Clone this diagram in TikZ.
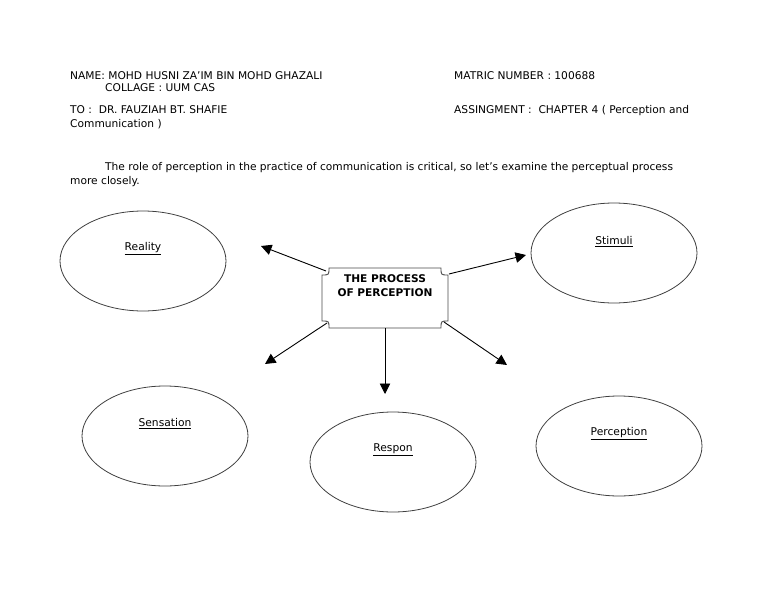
\documentclass[tikz,border=0pt]{standalone}
\usepackage{fontspec}
\setmainfont{DejaVu Sans}
\usetikzlibrary{arrows.meta,shapes.geometric}
\begin{document}
\begin{tikzpicture}[x=1pt,y=-1pt,
  txt/.style={anchor=base west,inner sep=0pt,font=\fontsize{10.65}{12}\selectfont},
  oval/.style={draw=black!75,line width=0.8pt,ellipse,minimum width=166pt,minimum height=100pt},
  lbl/.style={inner sep=0pt,font=\fontsize{10.7}{12}\selectfont},
  arr/.style={draw=black,line width=0.9pt,-{Triangle[length=10.5pt,width=10.5pt]}}]
\useasboundingbox (0,0) rectangle (768,594);
\fill[white] (0,0) rectangle (768,594);
% header
\node[txt] (name) at (70,79) {NAME: MOHD HUSNI ZA'IM BIN MOHD GHAZALI};
\node[txt] (coll) at (105,92) {COLLAGE : UUM CAS};
\node[txt] (matric) at (454,79) {MATRIC NUMBER : 100688};
\node[txt] (to) at (70,113) {TO :\ \ DR. FAUZIAH BT. SHAFIE};
\node[txt] (assign) at (454,113) {ASSINGMENT :\ \ CHAPTER 4 ( Perception and};
\node[txt] (comm) at (70,127) {Communication )};
\node[txt] (para1) at (105,170) {The role of perception in the practice of communication is critical, so let's examine the perceptual process};
\node[txt] (para2) at (70,184) {more closely.};
% ellipses
\node[oval] (reality) at (143,261) {};
\node[oval] (stimuli) at (614,253) {};
\node[oval] (sensation) at (165,436) {};
\node[oval] (respon) at (393,462) {};
\node[oval] (perception) at (619,446) {};
\node[lbl] (lreality) at (143,249) {\underline{Reality}};
\node[lbl] (lstimuli) at (614,242) {\underline{Stimuli}};
\node[lbl] (lsensation) at (165,424) {\underline{Sensation}};
\node[lbl] (lrespon) at (393,450) {\underline{Respon}};
\node[lbl] (lperception) at (619,434) {\underline{Perception}};
% plaque
\draw[black!70,line width=0.9pt,fill=white]
  (329,268) -- (441,268) .. controls (441,275) .. (448,275)
  -- (448,321) .. controls (441,321) .. (441,328)
  -- (329,328) .. controls (329,321) .. (322,321)
  -- (322,275) .. controls (329,275) .. (329,268) -- cycle;
\node[inner sep=0pt,align=center,font=\fontsize{10.6}{14}\selectfont\bfseries] (proc) at (385,285.5) {THE PROCESS\\OF PERCEPTION};
\coordinate (s1) at (326,271);
\coordinate (e1) at (261,246);
\coordinate (s2) at (449,274);
\coordinate (e2) at (526,255);
\coordinate (s3) at (327,323);
\coordinate (e3) at (265,364);
\coordinate (s4) at (385,328);
\coordinate (e4) at (385,394);
\coordinate (s5) at (444,322);
\coordinate (e5) at (507,365);
\draw[arr] (s1) -- (e1);
\draw[arr] (s2) -- (e2);
\draw[arr] (s3) -- (e3);
\draw[arr] (s4) -- (e4);
\draw[arr] (s5) -- (e5);
\end{tikzpicture}
\end{document}
